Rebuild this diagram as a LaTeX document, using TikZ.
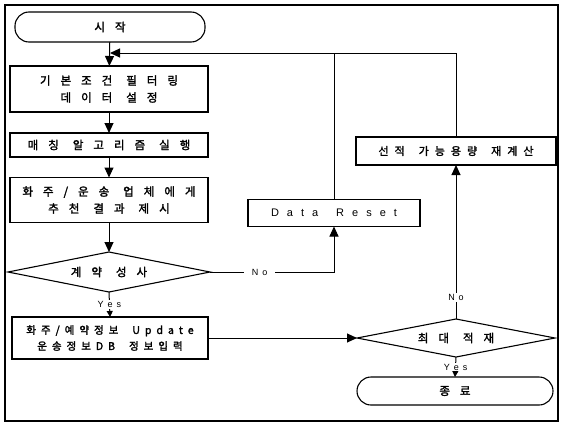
\documentclass[tikz,border=0pt]{standalone}
\usepackage{fontspec}
\setmainfont{Liberation Sans}
\newfontfamily\kr[AutoFakeBold=2]{Noto Sans CJK KR}
\usetikzlibrary{shapes.geometric,arrows.meta}
\newcommand{\gp}{\hspace{14pt}}
\newcommand{\ktxt}{\kr\bfseries\fontsize{11.5}{17}\selectfont\setlength{\spaceskip}{10pt}}
\newcommand{\kmid}{\kr\bfseries\fontsize{11}{16}\selectfont\setlength{\spaceskip}{6pt}}
\newcommand{\ksm}{\kr\bfseries\fontsize{10.5}{16}\selectfont\setlength{\spaceskip}{5pt}}
\newcommand{\ltxt}{\fontsize{11}{14}\selectfont\setlength{\spaceskip}{8pt}}
\newcommand{\lsm}{\fontsize{9}{11}\selectfont\setlength{\spaceskip}{4pt}}
\begin{document}
\begin{tikzpicture}[x=1pt,y=-1pt,
  every node/.style={inner sep=0pt, outer sep=0pt},
  txt/.style={font=\ktxt, align=center},
  lat/.style={font=\ltxt},
  lbl/.style={font=\lsm, fill=white, inner sep=1pt},
  box/.style={draw, line width=1.1pt, txt},
  term/.style={draw, line width=1.1pt, rounded corners=14pt, txt},
  dia/.style={draw, diamond, shape aspect=5, line width=1.1pt, txt},
  arr/.style={line width=1pt, -{Triangle[length=10pt,width=9pt]}},
  sarr/.style={line width=1pt, -{Triangle[length=6pt,width=6pt]}},
  ln/.style={line width=1pt}
]
\useasboundingbox (0,0) rectangle (562,426);
\draw[line width=1.6pt] (5,5) rectangle (558,421);

\node[term, minimum width=190pt, minimum height=30pt] (start) at (110,27) {시 작};
\node[box, minimum width=198pt, minimum height=46pt] (b1) at (109,89) {기 본 조 건\gp 필 터 링\\데 이 터\gp 설 정};
\node[box, minimum width=198pt, minimum height=24pt] (b2) at (109,145) {매 칭\gp 알 고 리 즘\gp 실 행};
\node[box, minimum width=198pt, minimum height=45pt] (b3) at (109,200) {화 주 / 운 송\gp 업 체 에 게\\추 천\gp 결 과\gp 제 시};
\node[dia, minimum width=202pt, minimum height=40pt] (d1) at (109,272) {계 약\gp 성 사};
\node[box, minimum width=196pt, minimum height=42pt, font=\ksm] (b4) at (110,338) {화 주 / 예 약 정 보\gp U p d a t e\\운 송 정 보 D B\gp 정 보 입 력};
\node[dia, minimum width=198pt, minimum height=38pt] (d2) at (456,338) {최 대\gp 적 재};
\node[term, minimum width=196pt, minimum height=28pt] (end) at (455,391) {종 료};
\node[box, minimum width=200pt, minimum height=28pt, font=\kmid] (rc) at (456,151) {선 적\gp 가 능 용 량\gp 재 계 산};
\node[box, minimum width=172pt, minimum height=27pt, lat] (dr) at (334,213) {D a t a\hspace{10pt} R e s e t};

\coordinate (top) at (110,53);
\draw[arr] (start) -- (b1);
\draw[arr] (b1) -- (b2);
\draw[arr] (b2) -- (b3);
\draw[arr] (b3) -- (d1.north);
\draw[sarr] (d1.south) -- (b4.north) node[midway, lbl] {Y e s};
\draw[arr] (d1.east) -| (dr.south) node[pos=0.2, lbl, inner xsep=8pt] {N o};
\draw[ln] (dr.north) -- (dr.north |- top);
\draw[arr] (rc.north) -- (rc.north |- top) -- (top);
\draw[arr] (b4.east) -- (d2.west);
\draw[arr] (d2.north) -- (rc.south) node[pos=0.14, lbl] {N o};
\draw[sarr] (d2.south) -- (end.north) node[midway, lbl] {Y e s};
\end{tikzpicture}
\end{document}
